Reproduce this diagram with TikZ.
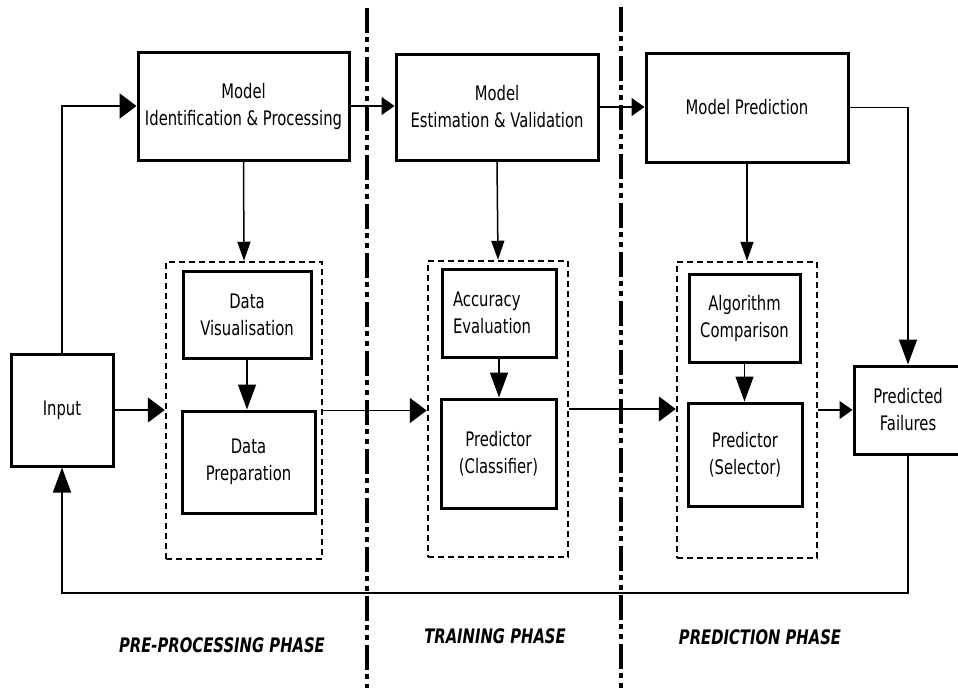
\documentclass[tikz,border=0pt]{standalone}
\usepackage{fontspec}
\setmainfont{DejaVu Sans}[FakeStretch=0.74]
\usetikzlibrary{positioning}
\usetikzlibrary{arrows.meta}
\tikzstyle{block}=[rectangle,draw,line width=3pt,inner sep=2pt,align=center,font=\fontsize{20}{27}\selectfont]
\tikzstyle{group}=[rectangle,draw,line width=2.5pt,dash pattern=on 6pt off 4pt,inner sep=0pt]
\tikzstyle{hedge} = [draw,line width=1.5pt,-{Triangle[length=17pt,width=25pt]}]
\tikzstyle{vedge} = [draw,line width=1.5pt,-{Triangle[length=25pt,width=18pt]}]
\tikzstyle{smallhedge} = [draw,line width=1.5pt,-{Triangle[length=13pt,width=18pt]}]
\tikzstyle{smallvedge} = [draw,line width=1.5pt,-{Triangle[length=19pt,width=13pt]}]
\tikzstyle{divider} = [line width=3.5pt,dash pattern=on 25pt off 4pt on 5pt off 5pt on 5pt off 5pt]
\tikzstyle{phase} = [font=\fontsize{20}{24}\selectfont\bfseries\itshape]

\begin{document}
\begin{tikzpicture}[x=1pt,y=-1pt]

  \useasboundingbox (0,0) rectangle (958,688);

  % phase dividers
  \draw[divider] (367,8) -- (367,688);
  \draw[divider] (621,7) -- (621,688);

  % dotted groups
  \foreach \x/\y/\w/\h/\name in { 244/410.5/156/297/grp1, 498/409/140/296/grp2, 747/410/140/296/grp3}
          \node[group, minimum width=\w pt, minimum height=\h pt] (\name) at (\x,\y) {};

  \foreach \x/\y/\w/\h/\name/\label in { 243.5/106/211/108/modid/{Model\\Identification \& Processing},
          497/107/202/106/modest/{Model\\Estimation \& Validation}, 747/107.5/202/109/modpred/{Model Prediction},
          62/410/102/112/input/{Input}, 247/314.5/128/87/datavis/{Data\\Visualisation},
          248.5/462/133/102/dataprep/{Data\\Preparation}, 498.5/453.5/115/109/predclass/{Predictor\\(Classifier)},
          744.5/318/111/88/algcomp/{Algorithm\\Comparison}, 745/454.5/114/103/predsel/{Predictor\\(Selector)},
          908/410/108/88/predfail/{Predicted\\Failures}}
          \node[block, minimum width=\w pt, minimum height=\h pt] (\name) at (\x,\y) {\label};

  \node[block, align=left, text width=92pt, minimum width=114pt, minimum height=88pt] (acceval) at (499,313) {Accuracy\\Evaluation};

  % top row
  \draw[hedge, line width=2.5pt] (input.north) |- (modid.west);
  \draw[smallhedge] (modid.east) -- (modid.east -| modest.west);
  \draw[smallhedge] (modest.east) -- (modest.east -| modpred.west);
  \draw[vedge] (modpred.east) -| (predfail.north);

  \foreach \source/ \dest in {modid/grp1, modest/grp2, modpred/grp3}
         \path[smallvedge] (\source.south) -- (\dest.north);

  \foreach \source/ \dest in {datavis/dataprep, acceval/predclass, algcomp/predsel}
         \path[vedge] (\source.south) -- (\source.south |- \dest.north);

  % middle row
  \foreach \source/ \dest in {input/grp1, grp1/grp2, grp2/grp3}
         \path[hedge] (\source.east) -- (\source.east -| \dest.west);
  \draw[smallhedge] (grp3.east) -- (grp3.east -| predfail.west);

  % feedback
  \coordinate (fb) at (0,593);
  \draw[vedge] (predfail.south) -- (predfail.south |- fb) -| (input.south);

  \node[phase] (prephase) at (222,645) {PRE-PROCESSING PHASE};
  \node[phase] (trainphase) at (495,636) {TRAINING PHASE};
  \node[phase] (predphase) at (760,637) {PREDICTION PHASE};

\end{tikzpicture}
\end{document}
